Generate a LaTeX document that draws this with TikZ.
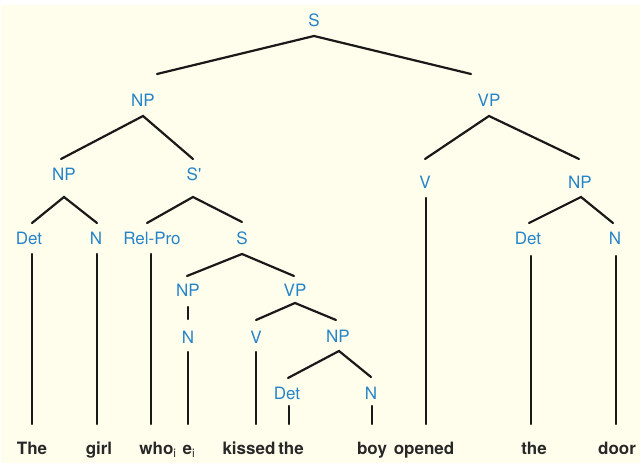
\documentclass[tikz,border=0pt]{standalone}
\usepackage{fontspec}
\setmainfont{TeX Gyre Heros}
\newfontfamily\labfont{TeX Gyre Heros}[Ligatures=TeXOff]
\definecolor{cream}{RGB}{255,254,236}
\definecolor{labelblue}{RGB}{38,132,200}
\definecolor{wordgray}{RGB}{40,40,40}
\begin{document}
\begin{tikzpicture}[x=1pt,y=-1pt,
  lab/.style={text=labelblue,font=\labfont\fontsize{17}{20}\selectfont,inner sep=0pt,
    text height=12.3pt,text depth=0pt,anchor=center},
  word/.style={text=wordgray,font=\fontsize{17}{20}\selectfont\bfseries,inner sep=0pt,anchor=base},
  br/.style={line width=2.2pt,draw=black!90,line cap=round}]
\useasboundingbox (0,0) rectangle (641,465);
\fill[cream] (1,5) rectangle (640,463);
% labels
\node[lab] (S) at (314,20) {S};
\node[lab] (NP1) at (143,100) {NP};
\node[lab] (VP1) at (489,100) {VP};
\node[lab] (NP2) at (64,174) {NP};
\node[lab] (Sbar) at (194,174) {S'};
\node[lab] (V1) at (425,182) {V};
\node[lab] (NP3) at (580,182) {NP};
\node[lab] (Det1) at (29,238) {Det};
\node[lab] (N1) at (96,238) {N};
\node[lab] (RelPro) at (152,238) {Rel-Pro};
\node[lab] (S2) at (242,238) {S};
\node[lab] (Det3) at (528,238) {Det};
\node[lab] (N3) at (615,238) {N};
\node[lab] (NP4) at (188,290) {NP};
\node[lab] (VP2) at (295,290) {VP};
\node[lab] (N4) at (188,337) {N};
\node[lab] (V2) at (256,337) {V};
\node[lab] (NP5) at (338,336) {NP};
\node[lab] (Det4) at (287,393) {Det};
\node[lab] (N5) at (371,393) {N};
% words
\node[word] (wThe) at (32,455) {The};
\node[word] (wgirl) at (99,455) {girl};
\node[word] (wwho) at (158,455) {who\textsubscript{\mdseries i}};
\node[word] (we) at (189,455) {e\textsubscript{\mdseries i}};
\node[word] (wkissed) at (249,455) {kissed};
\node[word] (wthe) at (291,455) {the};
\node[word] (wboy) at (372,455) {boy};
\node[word] (wopened) at (424,455) {opened};
\node[word] (wthe2) at (534,455) {the};
\node[word] (wdoor) at (617,455) {door};
% branches
\draw[br] ([shift={(14,-26)}]NP1.center) -- ([shift={(0,16)}]S.center) -- ([shift={(-18,-26)}]VP1.center);
\draw[br] ([shift={(-3,-15)}]NP2.center) -- ([shift={(0,16)}]NP1.center) -- ([shift={(-1,-15)}]Sbar.center);
\draw[br] ([shift={(0,-23)}]V1.center) -- ([shift={(0,16)}]VP1.center) -- ([shift={(-1,-23)}]NP3.center);
\draw[br] ([shift={(3,-15)}]Det1.center) -- ([shift={(0,23)}]NP2.center) -- ([shift={(1,-15)}]N1.center);
\draw[br] ([shift={(-5,-15)}]RelPro.center) -- ([shift={(-1,23)}]Sbar.center) -- ([shift={(0,-16)}]S2.center);
\draw[br] ([shift={(1,-15)}]Det3.center) -- ([shift={(1,15)}]NP3.center) -- ([shift={(-2,-15)}]N3.center);
\draw[br] ([shift={(-1,-14)}]NP4.center) -- ([shift={(0,16)}]S2.center) -- ([shift={(-1,-14)}]VP2.center);
\draw[br] ([shift={(0,17)}]NP4.center) -- ([shift={(0,-18)}]N4.center);
\draw[br] ([shift={(0,-17)}]V2.center) -- ([shift={(0,13)}]VP2.center) -- ([shift={(-2,-16)}]NP5.center);
\draw[br] ([shift={(1,-15)}]Det4.center) -- ([shift={(1,15)}]NP5.center) -- ([shift={(0,-16)}]N5.center);
% stems to words
\draw[br] ([shift={(3,16)}]Det1.center) -- ([shift={(0,-31)}]wThe.base);
\draw[br] ([shift={(1,16)}]N1.center) -- ([shift={(-2,-31)}]wgirl.base);
\draw[br] ([shift={(-1,16)}]RelPro.center) -- ([shift={(-7,-31)}]wwho.base);
\draw[br] ([shift={(0,15)}]N4.center) -- ([shift={(-1,-31)}]we.base);
\draw[br] ([shift={(0,15)}]V2.center) -- ([shift={(7,-31)}]wkissed.base);
\draw[br] ([shift={(2,13)}]Det4.center) -- ([shift={(-2,-31)}]wthe.base);
\draw[br] ([shift={(1,13)}]N5.center) -- ([shift={(0,-31)}]wboy.base);
\draw[br] ([shift={(1,16)}]V1.center) -- ([shift={(2,-31)}]wopened.base);
\draw[br] ([shift={(3,18)}]Det3.center) -- ([shift={(-3,-31)}]wthe2.base);
\draw[br] ([shift={(1,18)}]N3.center) -- ([shift={(-1,-31)}]wdoor.base);
\end{tikzpicture}
\end{document}
